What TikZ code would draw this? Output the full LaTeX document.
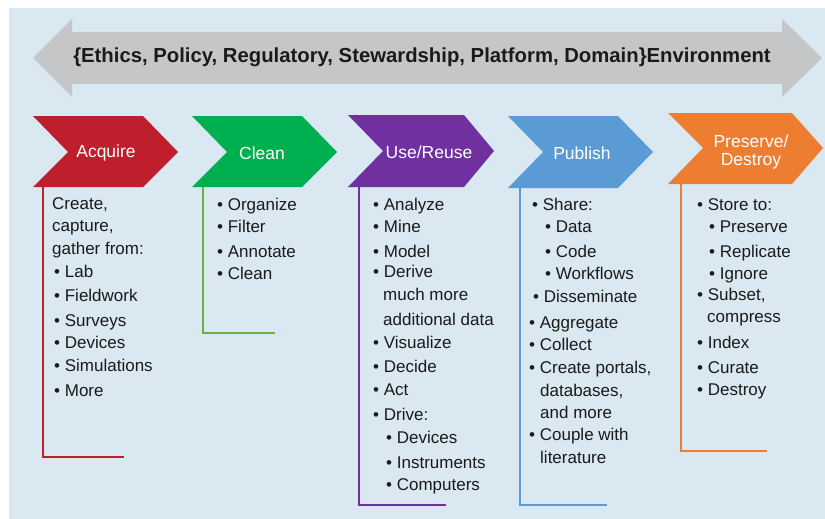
\documentclass[tikz,border=0pt]{standalone}
\usepackage{fontspec}
\setmainfont{Liberation Sans}
\definecolor{bgblue}{HTML}{D9E8F1}
\definecolor{arrowgray}{HTML}{C5C6C8}
\definecolor{cred}{HTML}{BF1E2C}
\definecolor{cgreen}{HTML}{00B050}
\definecolor{lgreen}{HTML}{70AD47}
\definecolor{cpurple}{HTML}{7030A0}
\definecolor{cblue}{HTML}{5B9BD5}
\definecolor{corange}{HTML}{ED7D31}
\definecolor{txt}{HTML}{1A1A1A}
\tikzset{
  body/.style={font=\fontsize{17}{20}\selectfont, anchor=base west, inner sep=0pt, text=txt},
  chevlabel/.style={font=\fontsize{17.5}{18}\selectfont, text=white, align=center, inner sep=0pt},
  bracket/.style={line width=2pt},
}
\begin{document}
\begin{tikzpicture}[x=1pt,y=-1pt]
\useasboundingbox (0,0) rectangle (825,519);
\fill[bgblue] (9,8) rectangle (825,519);
% double arrow
\fill[arrowgray] (33,58) -- (72,19) -- (72,32) -- (782,32) -- (782,19) -- (822,58)
  -- (782,97) -- (782,84) -- (72,84) -- (72,97) -- cycle;
\node[font=\bfseries\fontsize{20.3}{22}\selectfont, text=txt, inner sep=0pt] (env) at (422,57)
  {\{Ethics, Policy, Regulatory, Stewardship, Platform, Domain\}Environment};
% chevrons
\fill[cred] (33,116) -- (143,116) -- (178,152) -- (143,187) -- (33,187) -- (68,152) -- cycle;
\fill[cgreen] (192,116) -- (302,116) -- (337,152) -- (302,187) -- (192,187) -- (227,152) -- cycle;
\fill[cpurple] (348,115) -- (464,115) -- (494,151) -- (464,187) -- (348,187) -- (383,151) -- cycle;
\fill[cblue] (508,116) -- (618,116) -- (653,152) -- (618,188) -- (508,188) -- (543,152) -- cycle;
\fill[corange] (668,113) -- (792,113) -- (823,148) -- (792,184) -- (668,184) -- (703,148) -- cycle;
\node[chevlabel] (acq) at (106,153) {Acquire};
\node[chevlabel] (cln) at (262,153) {Clean};
\node[chevlabel] (use) at (429,152) {Use/Reuse};
\node[chevlabel] (pub) at (582,153) {Publish};
\node[chevlabel, align=center] (pre) at (751,152) {Preserve/\\[0pt]Destroy};
% brackets
\coordinate (acqA) at (43,187); \coordinate (acqB) at (124,457);
\coordinate (clnA) at (203,187); \coordinate (clnB) at (275,333);
\coordinate (useA) at (359,187); \coordinate (useB) at (446,505);
\coordinate (pubA) at (520,188); \coordinate (pubB) at (607,505);
\coordinate (preA) at (681,184); \coordinate (preB) at (767,451);
\draw[bracket, cred] (acqA) |- (acqB);
\draw[bracket, lgreen] (clnA) |- (clnB);
\draw[bracket, cpurple] (useA) |- (useB);
\draw[bracket, cblue] (pubA) |- (pubB);
\draw[bracket, corange] (preA) |- (preB);
% Acquire list
\foreach \x/\y/\t [count=\i] in {52/204/{Create,}, 52/226/{capture,}, 52/249/{gather from:},
  54/272/{• Lab}, 54/296/{• Fieldwork}, 54/321/{• Surveys}, 54/343/{• Devices},
  54/366/{• Simulations}, 54/391/{• More}}
  \node[body] (a\i) at (\x,\y+5.5) {\t};
% Clean list
\foreach \x/\y/\t [count=\i] in {217/205/{• Organize}, 217/227/{• Filter}, 217/252/{• Annotate}, 217/274/{• Clean}}
  \node[body] (c\i) at (\x,\y+5.5) {\t};
% Use list
\foreach \x/\y/\t [count=\i] in {373/205/{• Analyze}, 373/227/{• Mine}, 373/252/{• Model}, 373/272/{• Derive},
  383/295/{much more}, 383/320/{additional data}, 373/343/{• Visualize}, 373/367/{• Decide},
  373/390/{• Act}, 373/415/{• Drive:}, 386/438/{• Devices}, 386/463/{• Instruments}, 386/485/{• Computers}}
  \node[body] (u\i) at (\x,\y+5.5) {\t};
% Publish list
\foreach \x/\y/\t [count=\i] in {532/205/{• Share:}, 545/227/{• Data}, 545/252/{• Code}, 545/274/{• Workflows},
  533/297/{• Disseminate}, 529/323/{• Aggregate}, 529/345/{• Collect}, 529/368/{• Create portals,},
  540/391/{databases,}, 540/413/{and more}, 529/435/{• Couple with}, 540/458/{literature}}
  \node[body] (p\i) at (\x,\y+5.5) {\t};
% Preserve list
\foreach \x/\y/\t [count=\i] in {697/205/{• Store to:}, 709/227/{• Preserve}, 709/252/{• Replicate}, 709/274/{• Ignore},
  697/295/{• Subset,}, 707/317/{compress}, 697/343/{• Index}, 697/368/{• Curate}, 697/390/{• Destroy}}
  \node[body] (s\i) at (\x,\y+5.5) {\t};
\end{tikzpicture}
\end{document}
